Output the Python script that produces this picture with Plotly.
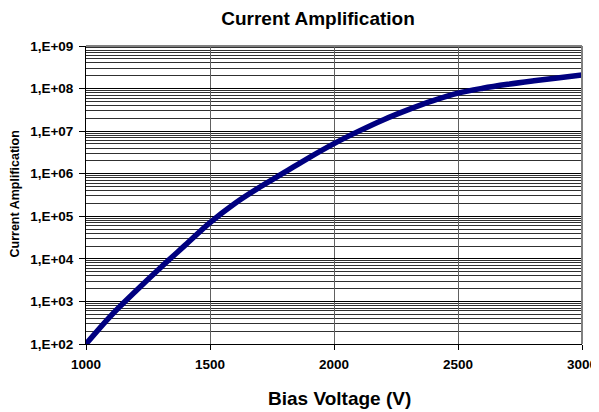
import plotly.graph_objects as go

voltage = [1000, 1100, 1200, 1300, 1400, 1500, 1600, 1700, 1800, 1900, 2000,
           2100, 2200, 2300, 2400, 2500, 2600, 2700, 2800, 2900, 3000]
amplification = [1.0e2, 4.6e2, 1.74e3, 6.2e3, 2.1e4, 7.1e4, 2.0e5, 4.8e5, 1.07e6, 2.4e6, 5.1e6,
                 1.0e7, 1.86e7, 3.2e7, 5.2e7, 7.8e7, 1.02e8, 1.26e8, 1.51e8, 1.78e8, 2.09e8]

y_tick_vals = [1e2, 1e3, 1e4, 1e5, 1e6, 1e7, 1e8, 1e9]
y_tick_text = ["1,E+02", "1,E+03", "1,E+04", "1,E+05", "1,E+06", "1,E+07", "1,E+08", "1,E+09"]
x_tick_vals = [1000, 1500, 2000, 2500, 3000]

minor_vals = [m * 10 ** k for k in range(2, 9) for m in range(2, 10)]

FONT = "Liberation Sans, Arial, sans-serif"

# page has an 8px body margin, so figure is sized to fit the 599x412 window
W, H = 591, 404
L, R, T, B = 78, 17, 38, 68
PW, PH = W - L - R, H - T - B

fig = go.Figure()
fig.add_trace(go.Scatter(
    x=voltage, y=amplification, mode="lines",
    line=dict(color="#000080", width=5.5, shape="spline", smoothing=1.0),
    showlegend=False, hoverinfo="skip"))

fig.update_layout(
    width=W, height=H,
    margin=dict(l=L, r=R, t=T, b=B, autoexpand=False),
    paper_bgcolor="white", plot_bgcolor="white",
    title=dict(text="<b>Current Amplification</b>", x=310 / W, xanchor="center",
               y=1 - 10 / H, yanchor="middle",
               font=dict(family=FONT, size=19, color="black")),
    font=dict(family=FONT, color="black"),
    xaxis=dict(
        range=[1000, 3000], tickvals=x_tick_vals,
        ticktext=["<b>%d</b>" % v for v in x_tick_vals],
        tickfont=dict(size=13.5, color="black"),
        showgrid=True, gridcolor="#606060", gridwidth=1,
        showline=True, linecolor="black", linewidth=1, mirror=False,
        ticks="outside", ticklen=5, tickcolor="black", ticklabelstandoff=3,
        zeroline=False, automargin=False, ticklabeloverflow="allow",
    ),
    yaxis=dict(
        type="log", range=[2, 9], tickvals=y_tick_vals,
        ticktext=["<b>%s</b>" % t for t in y_tick_text],
        tickfont=dict(size=13.5, color="black"),
        showgrid=True, gridcolor="black", gridwidth=1,
        minor=dict(tickvals=minor_vals, showgrid=True, gridcolor="#303030", gridwidth=1, ticks=""),
        showline=True, linecolor="black", linewidth=1,
        ticks="outside", ticklen=6, tickcolor="black", ticklabelstandoff=3,
        zeroline=False, automargin=False,
    ),
    annotations=[
        dict(text="<b>Bias Voltage (V)</b>", xref="paper", yref="paper",
             x=(331 - L) / PW, y=(PH + T - 390) / PH, xanchor="center", yanchor="middle",
             showarrow=False, font=dict(family=FONT, size=19, color="black")),
        dict(text="<b>Current Amplification</b>", xref="paper", yref="paper",
             x=(6 - L) / PW, y=(PH + T - 186.5) / PH, xanchor="center", yanchor="middle",
             textangle=-90, showarrow=False, font=dict(family=FONT, size=12.5, color="black")),
    ],
)

# gray frame on top and right
fig.add_shape(type="line", xref="paper", yref="paper", x0=0, x1=1, y0=1, y1=1,
              line=dict(color="#808080", width=2))
fig.add_shape(type="line", xref="paper", yref="paper", x0=1, x1=1, y0=0, y1=1,
              line=dict(color="#808080", width=2))

fig.write_html("out.html")
